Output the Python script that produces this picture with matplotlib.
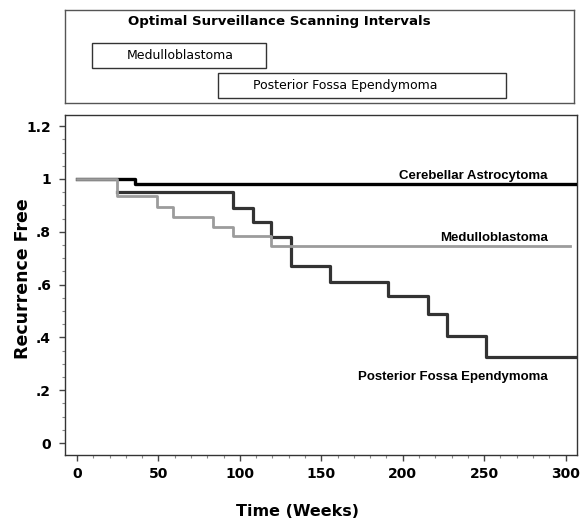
import matplotlib
matplotlib.use("Agg")
import matplotlib.pyplot as plt
from matplotlib.patches import Rectangle
from matplotlib.ticker import MultipleLocator, FixedLocator

plt.rcParams['font.family'] = ['Liberation Sans', 'DejaVu Sans']

# ---- data (weeks, recurrence-free fraction) ----
astro_t = [0, 24.6, 35.6, 307]
astro_s = [1.0, 1.0, 0.98, 0.98]

medullo_t = [0, 24.6, 49.2, 59.0, 83.6, 95.9, 119.2, 303]
medullo_s = [1.0, 0.936, 0.894, 0.856, 0.818, 0.784, 0.746, 0.746]

ependy_t = [24.6, 95.9, 108.0, 119.0, 131.5, 155.5, 191.0, 215.7, 227.4, 251.4, 307]
ependy_s = [0.951, 0.890, 0.837, 0.780, 0.670, 0.610, 0.557, 0.489, 0.405, 0.326, 0.326]

interval_names = ["Medulloblastoma", "Posterior Fossa Ependymoma"]
interval_start = [9, 87]
interval_end = [117, 265]

x_ticks = [0, 50, 100, 150, 200, 250, 300]
y_ticks = [0, 0.2, 0.4, 0.6, 0.8, 1.0, 1.2]
y_ticklabels = ["0", ".2", ".4", ".6", ".8", "1", "1.2"]

xlim = (-7.4, 307)

fig = plt.figure(figsize=(5.8, 5.18), dpi=100)

# ---- main axes ----
ax = fig.add_axes([65/580, (518-455)/518, 512/580, 340/518])
ax.step(ependy_t, ependy_s, where='post', color='#333333', lw=2.3, zorder=3)
ax.step(astro_t, astro_s, where='post', color='#000000', lw=2.4, zorder=4)
ax.step(medullo_t, medullo_s, where='post', color='#9c9c9c', lw=2.0, zorder=5)

ax.set_xlim(*xlim)
ax.set_ylim(-0.045, 1.242)
ax.xaxis.set_major_locator(FixedLocator(x_ticks))
ax.xaxis.set_minor_locator(MultipleLocator(10))
ax.yaxis.set_major_locator(FixedLocator(y_ticks))
ax.yaxis.set_minor_locator(MultipleLocator(0.05))
tick_font = dict(family='DejaVu Sans', fontweight='bold', fontsize=10)
ax.set_xticklabels([str(v) for v in x_ticks], **tick_font)
ax.set_yticklabels(y_ticklabels, **tick_font)
ax.tick_params(which='major', direction='out', length=4, width=1, color='#444')
ax.tick_params(which='minor', direction='out', length=2.5, width=0.8, color='#888')
ax.tick_params(axis='x', pad=5)
ax.tick_params(axis='y', pad=6)
for s in ax.spines.values():
    s.set_linewidth(1.0)
    s.set_color('#333')

fig.text(298/580, 1 - 511/518, "Time (Weeks)", family='DejaVu Sans', fontweight='bold',
         fontsize=11.5, ha='center', va='center')
fig.text(23/580, 1 - 279/518, "Recurrence Free", family='DejaVu Sans', fontweight='bold',
         fontsize=12.5, ha='center', va='center', rotation=90)

lab_x = 289
ax.text(lab_x, 1.011, "Cerebellar Astrocytoma", fontweight='bold', fontsize=9.5,
        ha='right', va='center')
ax.text(lab_x, 0.776, "Medulloblastoma", fontweight='bold', fontsize=9.5,
        ha='right', va='center')
ax.text(lab_x, 0.25, "Posterior Fossa Ependymoma", fontweight='bold', fontsize=9.5,
        ha='right', va='center')

# ---- top interval panel ----
tax = fig.add_axes([65/580, (518-103)/518, 509/580, 93/518])
tax.set_xlim(*xlim)
tax.set_ylim(0, 1)
tax.set_xticks([])
tax.set_yticks([])
for s in tax.spines.values():
    s.set_linewidth(1.0)
    s.set_color('#555')
tax.text(0.422, 0.871, "Optimal Surveillance Scanning Intervals", transform=tax.transAxes,
         family='DejaVu Sans', fontweight='bold', fontsize=9.6, ha='center', va='center')
box_y = [0.376, 0.054]
box_h = 0.27
for name, a, b, y in zip(interval_names, interval_start, interval_end, box_y):
    tax.add_patch(Rectangle((a, y), b - a, box_h, fill=False, ec='#333', lw=1.0))
    tax.text(a + 21.5, y + box_h / 2, name, family='DejaVu Sans', fontsize=9,
             ha='left', va='center')

fig.savefig("out.png", dpi=100)
